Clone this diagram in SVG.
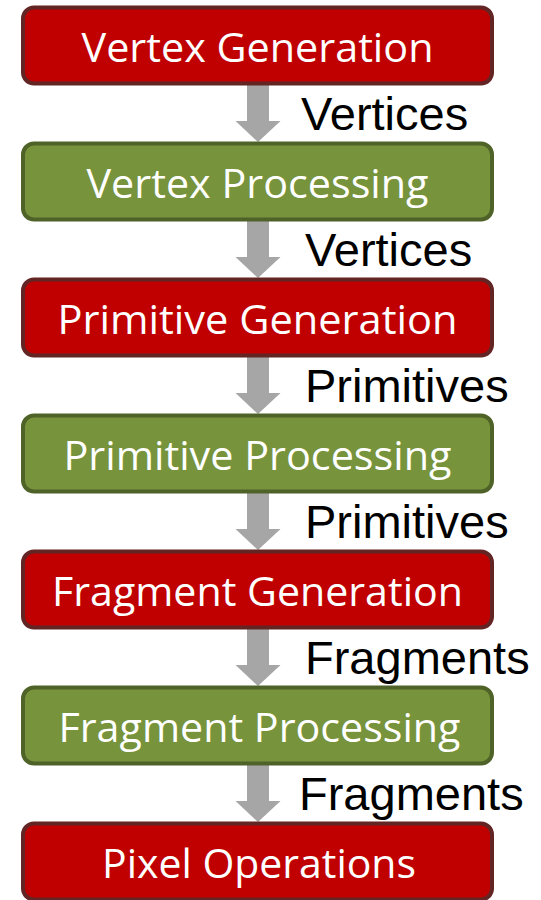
<svg xmlns="http://www.w3.org/2000/svg" width="541" height="900" viewBox="0 0 541 900">
  <style>
    .box { stroke-width: 4; }
    .gen { fill: #c00000; stroke: #632523; }
    .proc { fill: #77933c; stroke: #4f6228; }
    .stage { font-family: "Open Sans", "Noto Sans", "DejaVu Sans", sans-serif; font-size: 41px; fill: #ffffff; text-anchor: middle; }
    .flow { font-family: "Liberation Sans", Arial, sans-serif; font-size: 47px; fill: #000000; }
    .arrow { fill: #a6a6a6; }
  </style>
  <defs>
    <!-- block arrow spanning the gap between two stages -->
    <path id="down" class="arrow" d="M247,85 V121 H235.5 L258,142 L280.5,121 H269 V85 Z"/>
  </defs>

  <rect width="541" height="900" fill="#ffffff"/>

  <g id="connectors">
    <use href="#down"/>
    <use href="#down" transform="translate(0,136)"/>
    <use href="#down" transform="translate(0,272)"/>
    <use href="#down" transform="translate(0,408)"/>
    <use href="#down" transform="translate(0,544)"/>
    <use href="#down" transform="translate(0,680)"/>
    <text class="flow" x="301" y="130">Vertices</text>
    <text class="flow" x="305" y="266">Vertices</text>
    <text class="flow" x="305" y="402">Primitives</text>
    <text class="flow" x="305" y="538">Primitives</text>
    <text class="flow" x="305" y="674">Fragments</text>
    <text class="flow" x="299" y="810">Fragments</text>
  </g>

  <g id="vertex-generation">
    <rect class="box gen" x="23" y="7.5" width="469" height="76" rx="11"/>
    <text class="stage" x="257.5" y="62" textLength="352" lengthAdjust="spacingAndGlyphs">Vertex Generation</text>
  </g>
  <g id="vertex-processing">
    <rect class="box proc" x="23" y="143.5" width="469" height="76" rx="11"/>
    <text class="stage" x="257.5" y="198" textLength="342" lengthAdjust="spacingAndGlyphs">Vertex Processing</text>
  </g>
  <g id="primitive-generation">
    <rect class="box gen" x="23" y="279.5" width="469" height="76" rx="11"/>
    <text class="stage" x="257.5" y="334" textLength="400" lengthAdjust="spacingAndGlyphs">Primitive Generation</text>
  </g>
  <g id="primitive-processing">
    <rect class="box proc" x="23" y="415.5" width="469" height="76" rx="11"/>
    <text class="stage" x="257.5" y="470" textLength="388" lengthAdjust="spacingAndGlyphs">Primitive Processing</text>
  </g>
  <g id="fragment-generation">
    <rect class="box gen" x="23" y="551.5" width="469" height="76" rx="11"/>
    <text class="stage" x="257.5" y="606" textLength="411" lengthAdjust="spacingAndGlyphs">Fragment Generation</text>
  </g>
  <g id="fragment-processing">
    <rect class="box proc" x="23" y="687.5" width="469" height="76" rx="11"/>
    <text class="stage" x="259.5" y="742" textLength="402" lengthAdjust="spacingAndGlyphs">Fragment Processing</text>
  </g>
  <g id="pixel-operations">
    <rect class="box gen" x="23" y="823.5" width="469" height="76" rx="11"/>
    <text class="stage" x="259" y="878" textLength="314" lengthAdjust="spacingAndGlyphs">Pixel Operations</text>
  </g>
</svg>
